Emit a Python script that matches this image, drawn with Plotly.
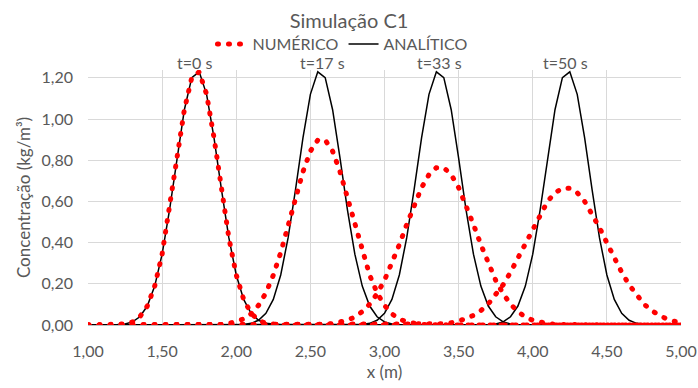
import plotly.graph_objects as go

# x grid (m)
x_m = [
    1.00, 1.05, 1.10, 1.15, 1.20, 1.25, 1.30, 1.35, 1.40, 1.45,
    1.50, 1.55, 1.60, 1.65, 1.70, 1.75, 1.80, 1.85, 1.90, 1.95,
    2.00, 2.05, 2.10, 2.15, 2.20, 2.25, 2.30, 2.35, 2.40, 2.45,
    2.50, 2.55, 2.60, 2.65, 2.70, 2.75, 2.80, 2.85, 2.90, 2.95,
    3.00, 3.05, 3.10, 3.15, 3.20, 3.25, 3.30, 3.35, 3.40, 3.45,
    3.50, 3.55, 3.60, 3.65, 3.70, 3.75, 3.80, 3.85, 3.90, 3.95,
    4.00, 4.05, 4.10, 4.15, 4.20, 4.25, 4.30, 4.35, 4.40, 4.45,
    4.50, 4.55, 4.60, 4.65, 4.70, 4.75, 4.80, 4.85, 4.90, 4.95,
    5.00,
]

# Analytical solution (kg/m3)
ana_t0 = [
    0, 0, 0, 0.001, 0.002, 0.005, 0.015, 0.040, 0.092, 0.189,
    0.344, 0.559, 0.810, 1.045, 1.201, 1.229, 1.120, 0.909, 0.658, 0.424,
    0.243, 0.124, 0.057, 0.023, 0.008, 0.003, 0.001, 0, 0, 0,
    0, 0, 0, 0, 0, 0, 0, 0, 0, 0,
    0, 0, 0, 0, 0, 0, 0, 0, 0, 0,
    0, 0, 0, 0, 0, 0, 0, 0, 0, 0,
    0, 0, 0, 0, 0, 0, 0, 0, 0, 0,
    0, 0, 0, 0, 0, 0, 0, 0, 0, 0,
    0,
]
ana_t17 = [
    0, 0, 0, 0, 0, 0, 0, 0, 0, 0,
    0, 0, 0, 0, 0, 0, 0, 0, 0, 0,
    0.001, 0.003, 0.008, 0.023, 0.057, 0.124, 0.243, 0.424, 0.658, 0.909,
    1.120, 1.229, 1.201, 1.045, 0.810, 0.559, 0.344, 0.189, 0.092, 0.040,
    0.015, 0.005, 0.002, 0.001, 0, 0, 0, 0, 0, 0,
    0, 0, 0, 0, 0, 0, 0, 0, 0, 0,
    0, 0, 0, 0, 0, 0, 0, 0, 0, 0,
    0, 0, 0, 0, 0, 0, 0, 0, 0, 0,
    0,
]
ana_t33 = [
    0, 0, 0, 0, 0, 0, 0, 0, 0, 0,
    0, 0, 0, 0, 0, 0, 0, 0, 0, 0,
    0, 0, 0, 0, 0, 0, 0, 0, 0, 0,
    0, 0, 0, 0, 0, 0, 0.001, 0.003, 0.008, 0.023,
    0.057, 0.124, 0.243, 0.424, 0.658, 0.909, 1.120, 1.229, 1.201, 1.045,
    0.810, 0.559, 0.344, 0.189, 0.092, 0.040, 0.015, 0.005, 0.002, 0.001,
    0, 0, 0, 0, 0, 0, 0, 0, 0, 0,
    0, 0, 0, 0, 0, 0, 0, 0, 0, 0,
    0,
]
ana_t50 = [
    0, 0, 0, 0, 0, 0, 0, 0, 0, 0,
    0, 0, 0, 0, 0, 0, 0, 0, 0, 0,
    0, 0, 0, 0, 0, 0, 0, 0, 0, 0,
    0, 0, 0, 0, 0, 0, 0, 0, 0, 0,
    0, 0, 0, 0, 0, 0, 0, 0, 0, 0,
    0, 0, 0, 0.001, 0.002, 0.005, 0.015, 0.040, 0.092, 0.189,
    0.344, 0.559, 0.810, 1.045, 1.201, 1.229, 1.120, 0.909, 0.658, 0.424,
    0.243, 0.124, 0.057, 0.023, 0.008, 0.003, 0.001, 0, 0, 0,
    0,
]

# Numerical solution (kg/m3)
num_t0 = [
    0, 0, 0, 0.001, 0.002, 0.005, 0.015, 0.040, 0.092, 0.189,
    0.344, 0.559, 0.810, 1.045, 1.201, 1.229, 1.120, 0.909, 0.658, 0.424,
    0.243, 0.124, 0.057, 0.023, 0.008, 0.003, 0.001, 0, 0, 0,
    0, 0, 0, 0, 0, 0, 0, 0, 0, 0,
    0, 0, 0, 0, 0, 0, 0, 0, 0, 0,
    0, 0, 0, 0, 0, 0, 0, 0, 0, 0,
    0, 0, 0, 0, 0, 0, 0, 0, 0, 0,
    0, 0, 0, 0, 0, 0, 0, 0, 0, 0,
    0,
]
num_t17 = [
    0, 0, 0, 0, 0, 0, 0, 0, 0, 0,
    0, 0, 0, 0, 0, 0, 0, 0.001, 0.003, 0.007,
    0.015, 0.029, 0.054, 0.095, 0.156, 0.242, 0.352, 0.481, 0.617, 0.744,
    0.844, 0.898, 0.898, 0.844, 0.744, 0.617, 0.481, 0.352, 0.242, 0.156,
    0.095, 0.054, 0.029, 0.015, 0.007, 0.003, 0.001, 0, 0, 0,
    0, 0, 0, 0, 0, 0, 0, 0, 0, 0,
    0, 0, 0, 0, 0, 0, 0, 0, 0, 0,
    0, 0, 0, 0, 0, 0, 0, 0, 0, 0,
    0,
]
num_t33 = [
    0, 0, 0, 0, 0, 0, 0, 0, 0, 0,
    0, 0, 0, 0, 0, 0, 0, 0, 0, 0,
    0, 0, 0, 0, 0, 0, 0, 0, 0, 0,
    0.001, 0.002, 0.003, 0.007, 0.013, 0.023, 0.039, 0.065, 0.101, 0.152,
    0.217, 0.298, 0.390, 0.488, 0.583, 0.667, 0.730, 0.764, 0.764, 0.730,
    0.667, 0.583, 0.488, 0.390, 0.298, 0.217, 0.152, 0.101, 0.065, 0.039,
    0.023, 0.013, 0.007, 0.003, 0.002, 0.001, 0, 0, 0, 0,
    0, 0, 0, 0, 0, 0, 0, 0, 0, 0,
    0,
]
num_t50 = [
    0, 0, 0, 0, 0, 0, 0, 0, 0, 0,
    0, 0, 0, 0, 0, 0, 0, 0, 0, 0,
    0, 0, 0, 0, 0, 0, 0, 0, 0, 0,
    0, 0, 0, 0, 0, 0, 0, 0, 0, 0,
    0, 0, 0, 0, 0, 0.001, 0.002, 0.004, 0.006, 0.011,
    0.019, 0.030, 0.047, 0.070, 0.102, 0.144, 0.195, 0.256, 0.325, 0.399,
    0.473, 0.541, 0.600, 0.642, 0.664, 0.664, 0.642, 0.600, 0.541, 0.473,
    0.399, 0.325, 0.256, 0.195, 0.144, 0.102, 0.070, 0.047, 0.030, 0.019,
    0.011,
]

time_labels = ["t=0 s", "t=17 s", "t=33 s", "t=50 s"]
time_label_x = [1.72, 2.58, 3.37, 4.22]
y_ticks = [0.0, 0.2, 0.4, 0.6, 0.8, 1.0, 1.2]
x_ticks = [1.0, 1.5, 2.0, 2.5, 3.0, 3.5, 4.0, 4.5, 5.0]

FONT = "Lato"
GREY = "#595959"

fig = go.Figure()

for i, ys in enumerate([ana_t0, ana_t17, ana_t33, ana_t50]):
    fig.add_trace(go.Scatter(
        x=x_m, y=ys, mode="lines", name="ANALÍTICO",
        line=dict(color="#000000", width=1.5),
        showlegend=(i == 0), legendrank=2, hoverinfo="skip",
    ))

for i, ys in enumerate([num_t0, num_t17, num_t33, num_t50]):
    fig.add_trace(go.Scatter(
        x=x_m, y=ys, mode="lines", name="NUMÉRICO",
        line=dict(color="#FF0000", width=5, dash="1px,10px"),
        showlegend=(i == 0), legendrank=1, hoverinfo="skip",
    ))

for lab, xv in zip(time_labels, time_label_x):
    fig.add_annotation(
        x=xv, xref="x", y=1.031, yref="paper", text=lab, showarrow=False,
        xanchor="center", yanchor="middle",
        font=dict(family=FONT, size=16, color=GREY),
    )

fig.update_layout(
    width=698, height=388,
    margin=dict(l=88, r=17, t=70, b=63),
    paper_bgcolor="white", plot_bgcolor="white",
    separators=",.",
    font=dict(family=FONT, size=16, color=GREY),
    title=dict(text="Simulação C1", x=0.5, xanchor="center",
               y=0.945, yanchor="middle", yref="container",
               font=dict(family=FONT, size=20, color=GREY)),
    legend=dict(orientation="h", x=0.43, xanchor="center", y=1.102,
                yanchor="middle", yref="paper",
                font=dict(family=FONT, size=16, color=GREY),
                itemwidth=30, tracegroupgap=0, bgcolor="rgba(0,0,0,0)"),
    xaxis=dict(
        range=[1.0, 5.0], tickvals=x_ticks, tickformat=".2f",
        showgrid=True, gridcolor="#d9d9d9", gridwidth=1,
        zeroline=False, showline=True, linecolor="#bfbfbf", linewidth=1,
        ticks="", ticklabelstandoff=12, automargin=False,
        tickfont=dict(family=FONT, size=16, color=GREY),
        title=dict(text="x (m)", standoff=6,
                   font=dict(family=FONT, size=17, color=GREY)),
    ),
    yaxis=dict(
        range=[0.0, 1.238], tickvals=y_ticks, tickformat=".2f",
        showgrid=True, gridcolor="#d9d9d9", gridwidth=1,
        zeroline=False, showline=False,
        ticks="", ticklabelstandoff=14, automargin=False,
        tickfont=dict(family=FONT, size=16, color=GREY),
        title=dict(text="Concentração (kg/m³)", standoff=6,
                   font=dict(family=FONT, size=17, color=GREY)),
    ),
)

post_js = """
var gd = document.getElementById('{plot_id}');
function roundCaps(){
  gd.querySelectorAll('path').forEach(function(p){
    var s = (p.style.stroke || '').replace(/\\s/g, '');
    if (s === 'rgb(255,0,0)') { p.style.strokeLinecap = 'round'; }
  });
}
roundCaps();
gd.on('plotly_afterplot', roundCaps);
"""

fig.write_html("out.html", post_script=post_js)
